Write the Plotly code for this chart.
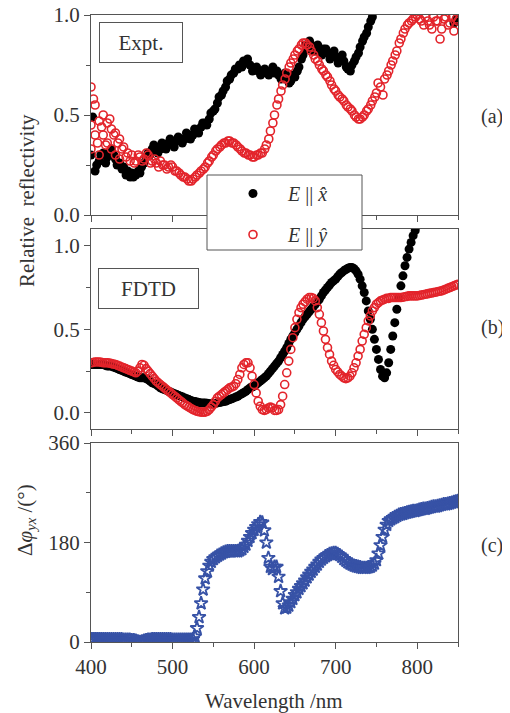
import plotly.graph_objects as go

# ---------------- Panel (a): experiment ----------------
a_x_wl = [400, 402, 405, 410, 415, 420, 425, 430, 435, 440, 445, 450, 455, 460, 465, 470, 475, 480,
          485, 490, 495, 500, 505, 510, 515, 520, 525, 530, 535, 540, 545, 550, 555, 560, 565, 570,
          575, 580, 585, 590, 595, 600, 605, 610, 615, 620, 625, 630, 635, 640, 645, 650, 655, 660,
          665, 670, 675, 680, 685, 690, 695, 700, 705, 710, 715, 720, 725, 730, 735, 740, 745, 750,
          755, 845, 848]
a_x_R = [0.30, 0.49, 0.22, 0.27, 0.31, 0.29, 0.33, 0.28, 0.26, 0.24, 0.22, 0.21, 0.20, 0.21, 0.26,
         0.31, 0.33, 0.34, 0.33, 0.35, 0.36, 0.36, 0.37, 0.38, 0.38, 0.40, 0.40, 0.42, 0.44, 0.46,
         0.48, 0.52, 0.56, 0.60, 0.64, 0.68, 0.71, 0.73, 0.74, 0.76, 0.75, 0.73, 0.72, 0.72, 0.71,
         0.72, 0.71, 0.70, 0.69, 0.68, 0.67, 0.69, 0.74, 0.80, 0.83, 0.85, 0.84, 0.82, 0.83, 0.81,
         0.80, 0.79, 0.78, 0.77, 0.73, 0.75, 0.79, 0.84, 0.89, 0.94, 0.99, 1.04, 1.09, 0.96, 0.98]
a_x2_wl = [407, 412, 418, 422, 428, 432, 438, 443, 448, 452, 458, 462, 468, 472, 477, 482, 487, 492,
           497, 502, 507, 512, 517, 522, 527, 532, 537, 542, 547, 552, 557, 562, 567, 572, 577, 582,
           587, 592, 598, 603, 608, 613, 618, 623, 628, 633, 638, 643, 648, 653, 658, 663, 668, 673,
           678, 683, 688, 693, 698, 703, 708, 713, 718, 723, 728, 733, 738, 743, 748]
a_x2_R = [0.25, 0.30, 0.26, 0.31, 0.30, 0.25, 0.23, 0.20, 0.19, 0.19, 0.22, 0.24, 0.29, 0.30, 0.35,
          0.31, 0.36, 0.33, 0.38, 0.34, 0.39, 0.36, 0.41, 0.38, 0.43, 0.41, 0.46, 0.45, 0.51, 0.53,
          0.59, 0.62, 0.67, 0.70, 0.73, 0.75, 0.77, 0.78, 0.72, 0.74, 0.70, 0.73, 0.70, 0.74, 0.72,
          0.68, 0.71, 0.66, 0.70, 0.72, 0.78, 0.85, 0.87, 0.82, 0.85, 0.80, 0.83, 0.78, 0.82, 0.76,
          0.80, 0.74, 0.72, 0.77, 0.81, 0.87, 0.91, 0.97, 1.02]

a_y_wl = [400, 400, 400, 403, 405, 405, 408, 410, 410, 413, 415, 415, 418, 420, 420, 423, 425, 425,
          428, 430, 430, 433, 435, 435, 438, 440, 443, 445, 448, 450, 453, 455, 458, 460, 463, 465,
          468, 470, 473, 475, 478, 480, 483, 485, 488, 490, 493, 495, 498, 500, 503, 505, 508, 510,
          513, 515, 518, 520, 523, 525, 528, 530, 533, 535, 538, 540, 543, 545, 548, 550, 553, 555,
          558, 560, 563, 565, 568, 570, 573, 575, 578, 580, 583, 585, 588, 590, 593, 595, 598, 600,
          603, 605, 608, 610, 613, 615, 618, 620, 623, 625, 628, 630, 633, 635, 638, 640, 643, 645,
          648, 650, 653, 655, 658, 660, 663, 665, 668, 670, 673, 675, 678, 680, 683, 685, 688, 690,
          693, 695, 698, 700, 703, 705, 708, 710, 713, 715, 718, 720, 723, 725, 728, 730, 733, 735,
          738, 740, 743, 745, 748, 750, 752, 755, 758, 760, 763, 765, 768, 770, 773, 775, 778, 780,
          783, 785, 788, 790, 793, 795, 798, 800, 803, 805, 808, 810, 813, 815, 818, 820, 823, 825,
          828, 830, 833, 835, 838, 840, 843, 845, 848, 850]
a_y_R = [0.45, 0.64, 0.33, 0.58, 0.40, 0.55, 0.36, 0.47, 0.30, 0.44, 0.50, 0.40, 0.35, 0.46, 0.36,
         0.48, 0.43, 0.33, 0.40, 0.41, 0.30, 0.36, 0.38, 0.28, 0.33, 0.34, 0.29, 0.31, 0.27, 0.30,
         0.26, 0.27, 0.30, 0.29, 0.27, 0.28, 0.31, 0.30, 0.26, 0.27, 0.28, 0.26, 0.24, 0.27, 0.25,
         0.25, 0.23, 0.24, 0.25, 0.24, 0.22, 0.22, 0.21, 0.20, 0.19, 0.19, 0.18, 0.17, 0.17, 0.18,
         0.19, 0.20, 0.21, 0.22, 0.23, 0.24, 0.26, 0.27, 0.29, 0.30, 0.32, 0.33, 0.34, 0.35, 0.36,
         0.36, 0.37, 0.37, 0.36, 0.36, 0.35, 0.34, 0.33, 0.32, 0.31, 0.31, 0.30, 0.30, 0.29, 0.29,
         0.30, 0.30, 0.31, 0.31, 0.33, 0.35, 0.38, 0.42, 0.46, 0.50, 0.55, 0.58, 0.62, 0.65, 0.68,
         0.71, 0.74, 0.76, 0.78, 0.80, 0.82, 0.83, 0.85, 0.86, 0.86, 0.85, 0.84, 0.82, 0.80, 0.78,
         0.77, 0.75, 0.73, 0.72, 0.70, 0.69, 0.67, 0.65, 0.63, 0.62, 0.60, 0.59, 0.58, 0.57, 0.55,
         0.54, 0.53, 0.52, 0.50, 0.49, 0.48, 0.48, 0.49, 0.50, 0.52, 0.53, 0.55, 0.57, 0.59, 0.61,
         0.66, 0.64, 0.60, 0.68, 0.70, 0.72, 0.75, 0.77, 0.80, 0.82, 0.86, 0.88, 0.91, 0.93, 0.95,
         0.96, 0.97, 0.98, 0.99, 1.00, 0.98, 0.97, 0.95, 0.99, 0.97, 0.95, 0.93, 0.99, 0.97, 0.97,
         0.88, 0.93, 0.98, 0.99, 0.95, 0.96, 0.99, 0.92, 0.98, 0.97]

# ---------------- Panel (b): FDTD, sampled every 2.5 nm ----------------
b_x_R = [0.29, 0.29, 0.29, 0.29, 0.29, 0.29, 0.29, 0.285, 0.28, 0.28,          # 400-422.5
         0.28, 0.275, 0.27, 0.265, 0.26, 0.255, 0.25, 0.245, 0.24, 0.235,      # 425-447.5
         0.23, 0.225, 0.22, 0.215, 0.21, 0.21, 0.21, 0.205, 0.20, 0.19,        # 450-472.5
         0.18, 0.175, 0.17, 0.16, 0.15, 0.145, 0.14, 0.135, 0.13, 0.125,       # 475-497.5
         0.12, 0.115, 0.11, 0.105, 0.10, 0.095, 0.09, 0.085, 0.08, 0.075,      # 500-522.5
         0.07, 0.068, 0.065, 0.062, 0.06, 0.06, 0.06, 0.058, 0.055, 0.055,     # 525-547.5
         0.055, 0.057, 0.06, 0.062, 0.065, 0.068, 0.07, 0.075, 0.08, 0.085,    # 550-572.5
         0.09, 0.095, 0.10, 0.108, 0.115, 0.122, 0.13, 0.14, 0.15, 0.155,      # 575-597.5
         0.16, 0.17, 0.18, 0.19, 0.20, 0.21, 0.22, 0.235, 0.25, 0.265,         # 600-622.5
         0.28, 0.295, 0.31, 0.33, 0.35, 0.37, 0.39, 0.415, 0.44, 0.46,         # 625-647.5
         0.48, 0.50, 0.52, 0.54, 0.56, 0.575, 0.59, 0.605, 0.62, 0.635,        # 650-672.5
         0.65, 0.665, 0.68, 0.70, 0.72, 0.735, 0.75, 0.765, 0.78, 0.79,        # 675-697.5
         0.80, 0.815, 0.83, 0.84, 0.85, 0.858, 0.865, 0.87, 0.87, 0.862,       # 700-722.5
         0.85, 0.83, 0.80, 0.76, 0.72, 0.67, 0.61, 0.56, 0.50, 0.44,           # 725-747.5
         0.38, 0.32, 0.26, 0.22, 0.21, 0.24, 0.30, 0.38, 0.46, 0.54,           # 750-772.5
         0.62, 0.69, 0.76, 0.82, 0.88, 0.93, 0.98, 1.02, 1.06, 1.09,           # 775-797.5
         1.12]                                                                  # 800
b_y_R = [0.30, 0.302, 0.305, 0.305, 0.305, 0.303, 0.30, 0.30, 0.30, 0.298,     # 400-422.5
         0.295, 0.292, 0.29, 0.285, 0.28, 0.275, 0.27, 0.265, 0.26, 0.255,     # 425-447.5
         0.25, 0.245, 0.24, 0.25, 0.27, 0.29, 0.285, 0.265, 0.25, 0.235,       # 450-472.5
         0.22, 0.205, 0.19, 0.18, 0.17, 0.16, 0.15, 0.14, 0.13, 0.12,          # 475-497.5
         0.11, 0.10, 0.09, 0.08, 0.07, 0.06, 0.05, 0.042, 0.035, 0.027,        # 500-522.5
         0.02, 0.015, 0.01, 0.007, 0.005, 0.005, 0.005, 0.01, 0.02, 0.035,     # 525-547.5
         0.05, 0.07, 0.09, 0.10, 0.11, 0.12, 0.13, 0.14, 0.15, 0.155,          # 550-572.5
         0.16, 0.175, 0.20, 0.23, 0.27, 0.29, 0.30, 0.30, 0.27, 0.22,          # 575-597.5
         0.17, 0.12, 0.07, 0.04, 0.02, 0.015, 0.02, 0.03, 0.035, 0.03,         # 600-622.5
         0.015, 0.015, 0.02, 0.05, 0.10, 0.17, 0.24, 0.31, 0.38, 0.45,         # 625-647.5
         0.51, 0.56, 0.60, 0.63, 0.65, 0.665, 0.68, 0.69, 0.69, 0.685,         # 650-672.5
         0.67, 0.63, 0.59, 0.54, 0.49, 0.44, 0.39, 0.35, 0.31, 0.285,          # 675-697.5
         0.26, 0.245, 0.23, 0.22, 0.21, 0.205, 0.21, 0.22, 0.24, 0.27,         # 700-722.5
         0.30, 0.34, 0.38, 0.43, 0.47, 0.51, 0.55, 0.58, 0.61, 0.63,           # 725-747.5
         0.65, 0.66, 0.67, 0.675, 0.68, 0.685, 0.685, 0.69, 0.69, 0.69,        # 750-772.5
         0.69, 0.69, 0.69, 0.692, 0.695, 0.697, 0.70, 0.70, 0.70, 0.70,        # 775-797.5
         0.70, 0.702, 0.705, 0.707, 0.71, 0.712, 0.715, 0.717, 0.72, 0.722,    # 800-822.5
         0.725, 0.728, 0.73, 0.735, 0.74, 0.745, 0.75, 0.755, 0.76, 0.765,     # 825-847.5
         0.77]                                                                  # 850

# ---------------- Panel (c): phase difference, every 2.5 nm ----------------
c_phi = [5, 5, 5, 5, 5, 5, 5, 5, 5, 5,                       # 400-422.5
         5, 5, 5, 5, 5, 5, 4, 4, 4, 4,                       # 425-447.5
         3, 3, 2, 1, 0, 1, 2, 3, 4, 4,                       # 450-472.5
         5, 5, 5, 5, 5, 5, 5, 5, 5, 5,                       # 475-497.5
         4, 4, 4, 4, 4, 4, 4, 4, 4, 4,                       # 500-522.5
         5, 10, 25, 45, 70, 95, 115, 128, 138, 145,          # 525-547.5
         150, 153, 156, 158, 160, 162, 163, 164, 164, 164,   # 550-572.5
         164, 164, 164, 166, 168, 172, 176, 183, 190, 197,   # 575-597.5
         203, 208, 213, 217, 216, 202, 180, 152, 136, 132,   # 600-622.5
         136, 136, 118, 92, 70, 61, 62, 66, 72, 78,          # 625-647.5
         85, 90, 96, 101, 106, 111, 117, 122, 127, 131,      # 650-672.5
         136, 140, 145, 149, 152, 155, 157, 159, 160, 161,   # 675-697.5
         161, 159, 157, 154, 150, 147, 144, 142, 140, 138,   # 700-722.5
         137, 136, 135, 134, 134, 134, 135, 136, 138, 142,   # 725-747.5
         148, 160, 175, 190, 203, 212, 219, 222, 224, 226,   # 750-772.5
         228, 230, 231, 232, 233, 234, 235, 236, 237, 237,   # 775-797.5
         238, 239, 240, 241, 241, 242, 243, 244, 245, 245,   # 800-822.5
         246, 247, 248, 249, 249, 250, 251, 252, 253, 254,   # 825-847.5
         255]                                                # 850

STEP = 2.5
b_x_wl = [400 + STEP * i for i in range(len(b_x_R))]
b_y_wl = [400 + STEP * i for i in range(len(b_y_R))]
c_wl = [400 + STEP * i for i in range(len(c_phi))]

x_ticks = [400, 500, 600, 700, 800]

FONT = "Liberation Serif"
BLACK = "#000000"
RED = "#e3242b"
BLUE = "#3752a6"
AX = "#555555"
TXT = "#333333"

# page body has an 8px default margin: the figure is placed at (8, 8)
OFF = 8
W, H = 510 - OFF, 713 - OFF


def px(x):
    return (x - OFF) / W


def py(y):
    return (H - (y - OFF)) / H


fig = go.Figure()

fig.add_trace(go.Scatter(x=a_x_wl + a_x2_wl, y=a_x_R + a_x2_R, mode="markers", xaxis="x", yaxis="y",
                         marker=dict(symbol="circle", size=9, color=BLACK),
                         name="\u00a0\u00a0\u00a0<i>E</i> || <i>x\u0302</i>", legendgroup="gx",
                         showlegend=True))
fig.add_trace(go.Scatter(x=a_y_wl, y=a_y_R, mode="markers", xaxis="x", yaxis="y",
                         marker=dict(symbol="circle-open", size=8, color=RED, line=dict(width=1.6, color=RED)),
                         name="\u00a0\u00a0\u00a0<i>E</i> || <i>y\u0302</i>", legendgroup="gy",
                         showlegend=True))
fig.add_trace(go.Scatter(x=b_x_wl, y=b_x_R, mode="markers", xaxis="x2", yaxis="y2",
                         marker=dict(symbol="circle", size=9, color=BLACK), showlegend=False))
fig.add_trace(go.Scatter(x=b_y_wl, y=b_y_R, mode="markers", xaxis="x2", yaxis="y2",
                         marker=dict(symbol="circle-open", size=8, color=RED, line=dict(width=1.6, color=RED)),
                         showlegend=False))
fig.add_trace(go.Scatter(x=c_wl, y=c_phi, mode="markers", xaxis="x3", yaxis="y3",
                         marker=dict(symbol="star-open", size=10, color=BLUE, line=dict(width=1.8, color=BLUE)),
                         showlegend=False))

xdom = [px(91), px(458)]


def ydom(top, bottom):
    return [py(bottom), py(top)]


common_x = dict(range=[400, 850], tickvals=x_ticks, ticks="outside", ticklen=6, tickwidth=1,
                tickcolor=AX, showline=True, linecolor=AX, linewidth=1, mirror=True,
                showgrid=False, zeroline=False, domain=xdom, automargin=False,
                ticklabeloverflow="allow",
                minor=dict(dtick=50, tick0=400, ticks="outside", ticklen=4, tickcolor=AX, showgrid=False),
                tickfont=dict(family=FONT, size=21, color=TXT))
common_y = dict(ticks="outside", ticklen=6, tickwidth=1, tickcolor=AX, showline=True, linecolor=AX,
                linewidth=1, mirror=True, showgrid=False, zeroline=False, automargin=False,
                ticklabeloverflow="allow",
                tickfont=dict(family=FONT, size=21, color=TXT))

fig.update_layout(
    width=W, height=H, margin=dict(l=0, r=0, t=0, b=0, autoexpand=False),
    paper_bgcolor="white", plot_bgcolor="white",
    font=dict(family=FONT, size=21, color=TXT),
    xaxis=dict(common_x, anchor="y", showticklabels=False),
    xaxis2=dict(common_x, anchor="y2", showticklabels=False),
    xaxis3=dict(common_x, anchor="y3", showticklabels=True),
    yaxis=dict(common_y, anchor="x", domain=ydom(15, 215), range=[0, 1], tickvals=[0, 0.5, 1.0],
               ticktext=["0.0", "0.5", "1.0"],
               minor=dict(tickvals=[0.25, 0.75], ticks="outside", ticklen=4, tickcolor=AX)),
    yaxis2=dict(common_y, anchor="x2", domain=ydom(229, 429), range=[-0.096, 1.1], tickvals=[0, 0.5, 1.0],
                ticktext=["0.0", "0.5", "1.0"],
                minor=dict(tickvals=[0.25, 0.75], ticks="outside", ticklen=4, tickcolor=AX)),
    yaxis3=dict(common_y, anchor="x3", domain=ydom(443, 642), range=[0, 360], tickvals=[0, 180, 360],
                minor=dict(tickvals=[90, 270], ticks="outside", ticklen=4, tickcolor=AX)),
    legend=dict(x=px(233), y=py(174), xanchor="left", yanchor="top",
                bgcolor="rgba(0,0,0,0)", borderwidth=0,
                font=dict(family=FONT, size=20, color=TXT),
                itemsizing="trace", tracegroupgap=12),
    shapes=[dict(type="rect", xref="paper", yref="paper", x0=px(207), x1=px(362),
                 y0=py(250), y1=py(175), fillcolor="white",
                 line=dict(color=AX, width=1), layer="above")],
)


def note(text, x, y, size, **kw):
    return dict(text=text, x=px(x), y=py(y), xref="paper", yref="paper", showarrow=False,
                xanchor="center", yanchor="middle", font=dict(size=size), **kw)


annotations = [
    note("Expt.", 141, 42.5, 21, width=80, height=37, bordercolor=AX, borderwidth=1),
    note("FDTD", 148.5, 288.5, 21, width=97, height=37, bordercolor=AX, borderwidth=1),
    note("(a)", 492, 116, 20),
    note("(b)", 492, 327, 20),
    note("(c)", 492, 545, 20),
    note("Relative  reflectivity", 27, 201, 21, textangle=-90),
    note("\u0394<i>\u03c6</i><sub><i>yx</i></sub> /(\u00b0)", 26, 520, 21, textangle=-90),
    note("Wavelength /nm", 274, 701, 21),
]
fig.update_layout(annotations=annotations)

fig.write_html("out.html", config={"displayModeBar": False},
               post_script="document.documentElement.style.overflow='hidden';")
